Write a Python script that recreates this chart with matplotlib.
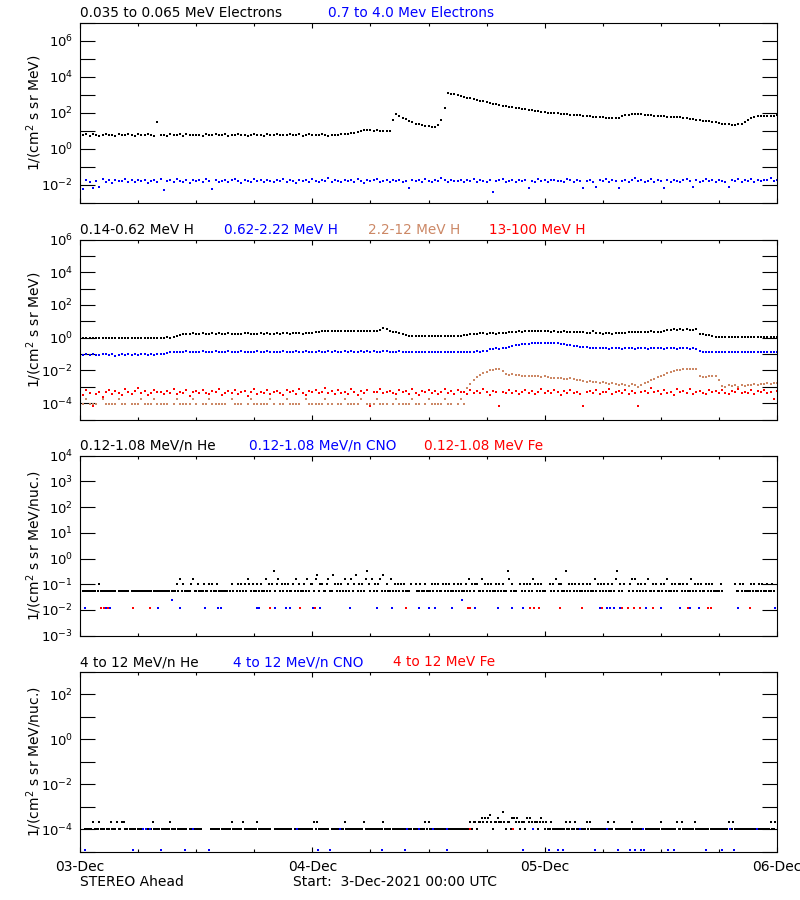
import numpy as np
import matplotlib
matplotlib.use("Agg")
import matplotlib.pyplot as plt
from matplotlib.ticker import FixedLocator, FuncFormatter, NullLocator, MultipleLocator

plt.rcParams["font.family"] = ["DejaVu Sans"]
plt.rcParams["mathtext.default"] = "regular"

nan = float("nan")

# ---------------- time axis ----------------
day_labels = ["03-Dec", "04-Dec", "05-Dec", "06-Dec"]
day_hours = [0, 24, 48, 72]
fine_cadence_h = 20 / 60.0     # panels 1-2 sample spacing (hours)
ion_cadence_h = 10 / 60.0      # panels 3-4 sample spacing (hours)

# ---------------- panel 1 : electrons ----------------
e_035_065 = [
    7.0, 5.8, 6.5, 5.2, 6.8, 6.0, 5.5, 6.3, 7.2, 5.9, 6.1, 5.4, 6.6, 6.2, 5.7, 6.9, 6.0, 5.3, 6.4, 6.1,
    5.8, 6.7, 6.2, 5.5, 30, 6.1, 6.3, 5.6, 6.5, 6.1, 5.9, 6.4, 5.2, 6.6, 6.0, 5.8, 6.3, 6.2, 5.5, 6.8,
    6.0, 5.7, 6.4, 6.1, 5.8, 6.5, 5.4, 6.2, 6.0, 6.7, 5.9, 6.3, 5.6, 6.1, 6.6, 5.8, 6.2, 5.3, 6.4, 6.0,
    5.9, 6.5, 6.1, 5.7, 6.3, 6.8, 5.8, 6.0, 6.4, 5.5, 6.2, 6.6, 5.9, 6.1, 5.7, 6.4, 6.0, 5.6, 6.3, 6.2,
    6.0, 6.5, 6.8, 7.2, 7.5, 8.0, 8.5, 9.5, 11, 12, 11, 10.5, 11, 10, 9.8, 10, 9.5, 40, 90, 65,
    55, 45, 36, 30, 26, 23, 21, 19, 18, 17, 17, 22, 40, 200, 1250, 1200, 1100, 950, 880, 800,
    700, 640, 580, 520, 480, 440, 400, 360, 330, 300, 280, 260, 240, 225, 210, 195, 185, 175, 160, 150,
    142, 132, 125, 118, 112, 106, 102, 98, 95, 92, 88, 85, 82, 79, 76, 74, 71, 68, 66, 63,
    61, 60, 58, 56, 55, 53, 52, 55, 70, 80, 82, 85, 86, 88, 85, 82, 78, 74, 70, 68,
    65, 64, 62, 61, 60, 59, 57, 56, 52, 48, 45, 42, 39, 37, 35, 34, 33, 30, 27, 25,
    24, 23, 22, 22, 23, 26, 32, 42, 50, 58, 64, 66, 68, 70, 72, 71, 74,
]
e_07_40 = [
    .016, .006, .019, .014, .007, .017, .008, .021, .015, .018, .013, .020, .016, .017, .022, .014, .019, .015, .018, .016,
    .020, .013, .017, .019, .015, .021, .005, .016, .018, .014, .022, .017, .015, .019, .013, .020, .016, .018, .014, .021,
    .017, .006, .019, .015, .016, .020, .014, .018, .022, .016, .013, .019, .017, .015, .021, .016, .018, .014, .020, .017,
    .015, .019, .016, .022, .014, .018, .017, .013, .020, .016, .019, .015, .021, .017, .014, .018, .016, .023, .015, .019,
    .017, .014, .020, .016, .018, .015, .021, .017, .013, .019, .016, .018, .022, .015, .017, .020, .014, .018, .016, .019,
    .015, .017, .007, .020, .016, .018, .014, .021, .017, .015, .019, .016, .023, .018, .014, .020, .016, .017, .019, .015,
    .018, .016, .021, .014, .019, .017, .015, .020, .004, .016, .018, .022, .015, .017, .019, .014, .020, .016, .018, .007,
    .017, .015, .021, .016, .019, .014, .018, .020, .016, .017, .015, .022, .018, .014, .019, .016, .007, .017, .020, .015,
    .008, .018, .016, .021, .014, .019, .017, .007, .016, .020, .015, .018, .024, .016, .019, .014, .017, .021, .015, .018,
    .016, .007, .019, .015, .020, .017, .014, .018, .022, .016, .008, .019, .015, .017, .021, .016, .018, .014, .020, .017,
    .015, .008, .019, .016, .021, .014, .018, .017, .022, .015, .019, .016, .020, .018, .023, .017, .019,
]

# ---------------- panel 2 : protons ----------------
h_014_062 = [
    .95, .92, 1.0, .9, .96, .93, 1.02, .94, .91, .97, .95, .99, .93, .96, .9, .98, .95, .94, 1.0, .93,
    .97, .95, .92, 1.01, .96, .94, .98, 1.05, .99, 1.1, 1.2, 1.5, 1.7, 1.8, 1.75, 1.85, 1.7, 1.8, 1.9, 1.75,
    1.8, 1.85, 1.7, 1.9, 1.8, 1.75, 1.85, 1.8, 1.7, 1.75, 1.8, 1.9, 1.85, 1.7, 1.8, 1.75, 1.85, 1.8, 1.9, 1.8,
    1.75, 1.85, 1.8, 1.9, 1.85, 1.8, 1.95, 1.85, 1.9, 1.8, 1.85, 1.95, 2.0, 2.1, 2.3, 2.4, 2.5, 2.45, 2.6, 2.5,
    2.4, 2.55, 2.5, 2.6, 2.45, 2.5, 2.55, 2.4, 2.5, 2.6, 2.5, 2.45, 2.6, 3.0, 4.0, 3.4, 2.6, 2.2, 2.1, 1.9,
    1.7, 1.4, 1.3, 1.32, 1.28, 1.3, 1.35, 1.25, 1.3, 1.28, 1.33, 1.3, 1.27, 1.32, 1.3, 1.35, 1.28, 1.3, 1.33, 1.4,
    1.5, 1.6, 1.7, 1.8, 1.85, 1.9, 1.8, 1.85, 1.9, 1.8, 1.95, 2.0, 1.9, 2.1, 2.2, 2.3, 2.4, 2.3, 2.5, 2.4,
    2.5, 2.45, 2.4, 2.55, 2.5, 2.4, 2.3, 2.45, 2.35, 2.3, 2.4, 2.3, 2.2, 2.35, 2.3, 2.25, 2.1, 1.9, 1.85, 2.6,
    1.9, 1.85, 1.8, 1.9, 1.85, 1.8, 1.95, 1.85, 1.9, 2.0, 2.2, 2.3, 2.25, 2.35, 2.3, 2.2, 2.3, 2.4, 2.3, 2.25,
    2.3, 2.4, 2.9, 3.1, 3.2, 3.0, 3.3, 3.1, 3.2, 3.0, 3.1, 3.2, 1.7, 1.6, 1.55, 1.5, 1.3, 1.15, 1.1, 1.12,
    1.08, 1.1, 1.05, 1.12, 1.1, 1.07, 1.1, 1.13, 1.05, 1.1, 1.08, 1.12, 1.06, 1.1, 1.09, 1.05, 1.1,
]
h_062_222 = [
    .095, .09, .1, .085, .097, .092, .088, .1, .094, .09, .096, .08, .093, .098, .091, .095, .089, .097, .093, .1,
    .094, .09, .096, .092, .1, .095, .098, .12, .13, .14, .135, .14, .13, .145, .14, .135, .14, .13, .145, .14,
    .135, .14, .145, .13, .14, .135, .15, .14, .13, .14, .145, .135, .14, .13, .14, .145, .135, .14, .15, .14,
    .135, .14, .13, .145, .14, .135, .14, .15, .14, .135, .145, .14, .13, .14, .145, .14, .135, .15, .14, .145,
    .14, .135, .145, .14, .15, .14, .135, .145, .14, .15, .14, .145, .135, .14, .15, .145, .14, .135, .14, .145,
    .14, .13, .135, .14, .13, .135, .14, .13, .135, .14, .13, .125, .135, .14, .13, .135, .14, .13, .14, .135,
    .14, .135, .14, .145, .14, .15, .16, .19, .21, .22, .21, .23, .25, .28, .32, .36, .38, .4, .42, .44,
    .45, .46, .47, .46, .48, .46, .47, .45, .46, .44, .42, .38, .34, .3, .29, .28, .27, .26, .25, .24,
    .23, .22, .23, .22, .21, .22, .23, .22, .21, .22, .23, .22, .21, .22, .22, .23, .21, .22, .23, .22,
    .22, .21, .22, .23, .22, .21, .22, .23, .22, .21, .22, .21, .16, .14, .135, .14, .13, .135, .14, .13,
    .135, .14, .13, .135, .125, .13, .14, .135, .13, .135, .14, .13, .125, .135, .13, .14, .135,
]
h_22_12 = [
    9e-5, 9e-5, 1.9e-4, 9e-5, 9e-5, 9e-5, nan, 1.9e-4, 9e-5, 9e-5, 9e-5, 9e-5, 1.9e-4, 9e-5, 9e-5, nan, 9e-5, 9e-5, 9e-5, 1.9e-4,
    9e-5, 9e-5, 9e-5, 1.9e-4, 9e-5, 9e-5, 9e-5, 9e-5, nan, 9e-5, 1.9e-4, 9e-5, 9e-5, 9e-5, 9e-5, 1.9e-4, 9e-5, nan, 9e-5, 9e-5,
    1.9e-4, 9e-5, 9e-5, 9e-5, 9e-5, 9e-5, nan, 1.9e-4, 9e-5, 9e-5, 9e-5, nan, 9e-5, 1.9e-4, 9e-5, 9e-5, 9e-5, 9e-5, 9e-5, 1.9e-4,
    9e-5, nan, 9e-5, 9e-5, 1.9e-4, 9e-5, 9e-5, 9e-5, 9e-5, nan, 1.9e-4, 9e-5, 9e-5, 9e-5, 9e-5, 9e-5, 1.9e-4, 9e-5, 9e-5, nan,
    9e-5, 9e-5, 1.9e-4, 9e-5, 9e-5, 9e-5, 9e-5, 1.9e-4, nan, 9e-5, 9e-5, 9e-5, 1.9e-4, 9e-5, 9e-5, 9e-5, nan, 9e-5, 1.9e-4, 9e-5,
    9e-5, 9e-5, 9e-5, 1.9e-4, 9e-5, 9e-5, nan, 9e-5, 1.9e-4, 9e-5, 9e-5, 9e-5, 9e-5, 1.9e-4, 9e-5, 9e-5, nan, 9e-5, 1.9e-4, 9e-5,
    8e-4, 1.5e-3, 2.5e-3, 4e-3, 5.5e-3, 7e-3, 8.5e-3, 1e-2, 1.1e-2, 1.25e-2, 1.3e-2, 9e-3, 6e-3, 5.5e-3, 6e-3, 5e-3, 5.2e-3, 4.6e-3, 4.8e-3, 4.5e-3,
    4.6e-3, 4.3e-3, 4.6e-3, 4.2e-3, 4.4e-3, 3.8e-3, 3.5e-3, 3.6e-3, 3.3e-3, 3.4e-3, 3.2e-3, 3e-3, 3.3e-3, 2.9e-3, 2.7e-3, 2.5e-3, 2.3e-3, 2.1e-3, 2.2e-3, 1.9e-3,
    2e-3, 1.8e-3, 1.9e-3, 1.7e-3, 1.5e-3, 1.6e-3, 1.4e-3, 1.2e-3, 1.5e-3, 1.3e-3, 1.1e-3, 1.4e-3, 1.2e-3, 1e-3, 1.3e-3, 1.6e-3, 2e-3, 2.6e-3, 3.2e-3, 3.8e-3,
    4.5e-3, 5.5e-3, 6.5e-3, 8e-3, 9e-3, 1e-2, 1.1e-2, 1.15e-2, 1.2e-2, 1.25e-2, 1.3e-2, 1.2e-2, 4.5e-3, 3.8e-3, 4.2e-3, 4.5e-3, 4.3e-3, 4.8e-3, 2.5e-3, 1.1e-3,
    1e-3, 1.3e-3, 1.1e-3, 1.2e-3, 1e-3, 1.2e-3, 1.1e-3, 1.3e-3, 1.2e-3, 1.4e-3, 1.3e-3, 1.5e-3, 1.4e-3, 1.6e-3, 1.5e-3, 1.7e-3, 1.6e-3,
]
h_13_100 = [
    4.5e-4, 3.2e-4, 6e-4, 4e-4, 7e-5, 3.5e-4, 5e-4, 2.5e-4, 4.8e-4, 6.5e-4, 3.8e-4, 5.5e-4, 4.2e-4, 3e-4, 7e-4, 4.6e-4, 3.6e-4, 5.2e-4, 8e-4, 4e-4,
    5.8e-4, 3.3e-4, 4.4e-4, 6.2e-4, 4.5e-4, 4.9e-4, 3.7e-4, 5.6e-4, 4.1e-4, 7.2e-4, 3.4e-4, 5e-4, 4.3e-4, 6e-4, 2.8e-4, 4.7e-4, 5.4e-4, 3.9e-4, 6.8e-4, 4.2e-4,
    3.5e-4, 5.3e-4, 4.6e-4, 7.8e-4, 3.1e-4, 4.4e-4, 5.9e-4, 4e-4, 6.4e-4, 3.6e-4, 4.9e-4, 5.5e-4, 2.6e-4, 4.5e-4, 7.1e-4, 3.8e-4, 5.1e-4, 4.3e-4, 6.1e-4, 3.4e-4,
    4.8e-4, 5.7e-4, 4.1e-4, 3.3e-4, 6.6e-4, 4.6e-4, 5.2e-4, 3.7e-4, 7.4e-4, 4.4e-4, 3e-4, 5.6e-4, 4.9e-4, 6.3e-4, 3.9e-4, 4.5e-4, 8.5e-4, 4e-4, 5.3e-4, 3.5e-4,
    6e-4, 4.3e-4, 5e-4, 3.8e-4, 7e-4, 4.7e-4, 3.2e-4, 5.5e-4, 4.2e-4, 6.7e-4, 7e-5, 5.1e-4, 4.6e-4, 7.5e-4, 3.9e-4, 4.8e-4, 5.8e-4, 4.1e-4, 3.4e-4, 6.2e-4,
    4.5e-4, 5.4e-4, 3.7e-4, 6.9e-4, 4.4e-4, 3.1e-4, 5.7e-4, 4.9e-4, 6.4e-4, 4e-4, 5.2e-4, 3.5e-4, 4.7e-4, 7.3e-4, 4.2e-4, 5.6e-4, 3.8e-4, 6e-4, 4.6e-4, 5e-4,
    3.6e-4, 6.6e-4, 4.3e-4, 5.3e-4, 4e-4, 7.8e-4, 4.8e-4, 3.3e-4, 5.9e-4, 4.5e-4, 7e-5, 5.1e-4, 3.9e-4, 6.8e-4, 4.4e-4, 5.5e-4, 3.4e-4, 4.9e-4, 6.1e-4, 4.2e-4,
    5.7e-4, 3.7e-4, 4.6e-4, 7.2e-4, 4.1e-4, 5.3e-4, 3.9e-4, 6.3e-4, 4.7e-4, 3.2e-4, 5.8e-4, 4.4e-4, 6.7e-4, 4e-4, 5e-4, 3.5e-4, 7e-5, 4.8e-4, 5.6e-4, 4.3e-4,
    6.2e-4, 3.8e-4, 5.1e-4, 4.5e-4, 7.6e-4, 3.4e-4, 4.9e-4, 5.7e-4, 4.1e-4, 6.5e-4, 3.6e-4, 5.2e-4, 4.4e-4, 7e-5, 4.7e-4, 5.9e-4, 3.9e-4, 8e-4, 4.6e-4, 5.3e-4,
    3.7e-4, 6e-4, 4.2e-4, 5e-4, 3.3e-4, 6.9e-4, 4.5e-4, 5.5e-4, 4e-4, 7.3e-4, 3.8e-4, 4.9e-4, 5.8e-4, 4.3e-4, 3.5e-4, 6.4e-4, 4.8e-4, 5.2e-4, 4.1e-4, 6.7e-4,
    4.4e-4, 3.6e-4, 5.6e-4, 4.7e-4, 7.1e-4, 3.9e-4, 5.1e-4, 4.3e-4, 6.2e-4, 3.4e-4, 5.4e-4, 4.6e-4, 6.8e-4, 4e-4, 5e-4, 1.8e-4, 5.7e-4,
]

# ---------------- panel 3 : 0.12-1.08 MeV/n ions ----------------
# He flux levels (count quantised) and per-10-min level code
he_low_levels = [nan, 0.053, 0.105, 0.165, 0.23, 0.28, 0.33]
he_low_codes = (
    "001111" "111101" "211111" "111110" "111111" "101111" "111111" "111011"
    "111111" "110111" "213121" "111231" "121112" "112121" "121111" "110121"
    "012121" "213212" "112121" "131212" "612312" "121211" "213121" "121312"
    "213412" "211231" "142121" "213121" "312412" "121362" "131212" "314121"
    "131212" "121211" "120021" "121121" "112121" "211212" "121121" "212112"
    "131212" "211312" "121211" "212121" "163121" "100212" "121213" "212121"
    "100212" "131221" "161212" "121211" "212121" "131212" "121211" "213612"
    "120012" "313121" "212131" "121211" "212131" "121212" "212121" "131212"
    "121121" "212111" "121000" "000021" "121211" "112121" "121211" "211210"
)
cno_low_hours = [0.5, 2.7, 3.1, 8.1, 9.5, 10.3, 12.9, 14.3, 14.6, 18.3, 18.5, 20.1, 21.3, 21.7,
                 22.7, 24.1, 24.8, 27.9, 30.7, 32.2, 35.0, 36.1, 36.7, 38.4, 39.5, 40.8, 43.2,
                 44.6, 45.8, 53.7, 54.4, 54.8, 55.2, 55.8, 58.5, 60.0, 62.0, 63.0, 63.9, 68.0, 71.8]
cno_low_flux = [0.012, 0.012, 0.012, 0.012, 0.024, 0.012, 0.012, 0.012, 0.012, 0.012, 0.012,
                0.012, 0.012, 0.012, 0.012, 0.012, 0.012, 0.012, 0.012, 0.012, 0.012, 0.012,
                0.012, 0.012, 0.024, 0.012, 0.012, 0.012, 0.012, 0.012, 0.012, 0.012, 0.012,
                0.012, 0.012, 0.012, 0.012, 0.012, 0.012, 0.012, 0.012]
fe_low_hours = [2.2, 2.5, 2.9, 5.5, 7.2, 19.6, 22.7, 24.3, 33.7, 40.1, 40.3, 46.5, 46.9, 47.4,
                49.6, 51.9, 53.9, 56.0, 56.6, 57.2, 57.8, 59.2, 62.8, 64.9, 65.2, 69.2]
fe_low_flux = [0.012] * 26

# ---------------- panel 4 : 4-12 MeV/n ions ----------------
he_high_levels = [nan, 1e-4, 2e-4, 3e-4, 4.5e-4, 6e-4]
he_high_codes = (
    "000111112111211101" "121112112211011110" "111101111211110111" "112111011111101111"
    "111100000111111011" "111121111112111111" "112111111110011111" "111111011111111111"
    "121211111110111111" "112111111111112111" "111111112111101111" "111111110111111121"
    "211111111111011111" "111111112122122323" "234212232252122133" "232122132321221232"
    "121121111111121121" "121111112121111111" "111211121111111111" "211111110111111111"
    "211111111121121111" "111211111111011111" "111111211211111111" "111111111111112112"
)
cno_high_hours = [6.5, 6.8, 7.2, 11.7, 22.4, 26.9, 33.8, 35.0, 36.5, 37.9, 46.8, 51.7, 54.4,
                  58.2, 67.1, 69.9,
                  0.5, 5.5, 8.4, 10.8, 13.3, 24.6, 25.8, 31.2, 33.6, 37.9, 45.8, 48.4, 49.4,
                  49.9, 53.2, 55.6, 56.8, 57.3, 58.0, 58.3, 60.7, 61.4, 64.7, 66.3, 67.6]
cno_high_flux = [1e-4] * 16 + [1.25e-5] * 25
fe_high_hours = [40.3, 44.7]
fe_high_flux = [1e-4, 1e-4]

# ---------------- styling ----------------
BLACK, BLUE, BROWN, RED = "#000000", "#0000FF", "#CC8866", "#FF0000"
W, H = 800, 900


def sample_hours(n, cad):
    return np.arange(n) * cad


def decode(codes, levels):
    return np.array([levels[int(c)] for c in codes])


def dots(ax, t, y, color, ms=1.6):
    ax.plot(t, y, linestyle="none", marker="s", markersize=ms, markeredgewidth=0,
            color=color)


def setup(ax, lo, hi, labelled, bottom_labels=False):
    ax.set_yscale("log")
    ax.set_ylim(10.0 ** lo, 10.0 ** hi)
    ax.set_xlim(day_hours[0], day_hours[-1])
    ax.yaxis.set_major_locator(FixedLocator(10.0 ** np.arange(lo, hi + 1)))
    ax.yaxis.set_minor_locator(NullLocator())

    def fmt(v, pos):
        e = int(round(np.log10(v)))
        return r"$10^{%d}$" % e if e in labelled else ""
    ax.yaxis.set_major_formatter(FuncFormatter(fmt))
    ax.tick_params(axis="y", which="major", direction="in", length=10.8, width=0.8,
                   left=True, right=True, labelsize=9.5, pad=5)
    ax.xaxis.set_major_locator(FixedLocator(day_hours))
    ax.xaxis.set_minor_locator(MultipleLocator(6))
    ax.tick_params(axis="x", which="major", direction="in", length=3.8, width=0.8,
                   top=True, bottom=True, labelsize=10, pad=6)
    ax.tick_params(axis="x", which="minor", direction="in", length=2.4, width=0.8,
                   top=True, bottom=True)
    if bottom_labels:
        ax.set_xticklabels(day_labels)
    else:
        ax.set_xticklabels([])
    for s in ax.spines.values():
        s.set_linewidth(0.8)


def ftext(x, y, s, color="black", **kw):
    fig.text(x / W, 1 - y / H, s, color=color, fontsize=kw.pop("fontsize", 9.8),
             va="center", **kw)


fig = plt.figure(figsize=(8, 9), dpi=100, facecolor="white")
left, width, height = 80 / W, 697 / W, 180 / H
tops = [23, 239.5, 455.7, 671.7]
axes = [fig.add_axes([left, 1 - (tp + 180) / H, width, height]) for tp in tops]

MS = 2.1

# panel 1
ax = axes[0]
t = sample_hours(len(e_035_065), fine_cadence_h)
dots(ax, t, e_035_065, BLACK, MS)
dots(ax, t, e_07_40, BLUE, MS)
setup(ax, -3, 7, {6, 4, 2, 0, -2})

# panel 2
ax = axes[1]
t = sample_hours(len(h_014_062), fine_cadence_h)
dots(ax, t, h_014_062, BLACK, MS)
dots(ax, t, h_062_222, BLUE, MS)
dots(ax, t, h_22_12, BROWN, MS)
dots(ax, t, h_13_100, RED, MS)
setup(ax, -5, 6, {6, 4, 2, 0, -2, -4})

# panel 3
ax = axes[2]
he3 = decode(he_low_codes, he_low_levels)
dots(ax, sample_hours(len(he3), ion_cadence_h), he3, BLACK, 1.7)
dots(ax, cno_low_hours, cno_low_flux, BLUE, 1.7)
dots(ax, fe_low_hours, fe_low_flux, RED, 1.7)
setup(ax, -3, 4, {4, 3, 2, 1, 0, -1, -2, -3})

# panel 4
ax = axes[3]
he4 = decode(he_high_codes, he_high_levels)
dots(ax, sample_hours(len(he4), ion_cadence_h), he4, BLACK, 1.7)
dots(ax, cno_high_hours, cno_high_flux, BLUE, 1.7)
dots(ax, fe_high_hours, fe_high_flux, RED, 1.7)
setup(ax, -5, 3, {2, 0, -2, -4}, bottom_labels=True)

# y labels
for tp, lab in zip(tops, ["1/(cm$^2$ s sr MeV)", "1/(cm$^2$ s sr MeV)",
                          "1/(cm$^2$ s sr MeV/nuc.)", "1/(cm$^2$ s sr MeV/nuc.)"]):
    fig.text(34 / W, 1 - (tp + 90) / H, lab, rotation=90, ha="center", va="center",
             fontsize=10)

# panel titles
ftext(80, 13, "0.035 to 0.065 MeV Electrons")
ftext(328, 13, "0.7 to 4.0 Mev Electrons", BLUE)
ftext(80, 229.5, "0.14-0.62 MeV H")
ftext(224, 229.5, "0.62-2.22 MeV H", BLUE)
ftext(368, 229.5, "2.2-12 MeV H", BROWN)
ftext(489, 229.5, "13-100 MeV H", RED)
ftext(80, 445.5, "0.12-1.08 MeV/n He")
ftext(249, 445.5, "0.12-1.08 MeV/n CNO", BLUE)
ftext(424, 445.5, "0.12-1.08 MeV Fe", RED)
ftext(80, 662, "4 to 12 MeV/n He")
ftext(233, 662, "4 to 12 MeV/n CNO", BLUE)
ftext(393, 662, "4 to 12 MeV Fe", RED)

# footer
ftext(80, 882, "STEREO Ahead", fontsize=10)
ftext(293, 882, "Start:  3-Dec-2021 00:00 UTC", fontsize=10)

fig.savefig("out.png", dpi=100, facecolor="white")
